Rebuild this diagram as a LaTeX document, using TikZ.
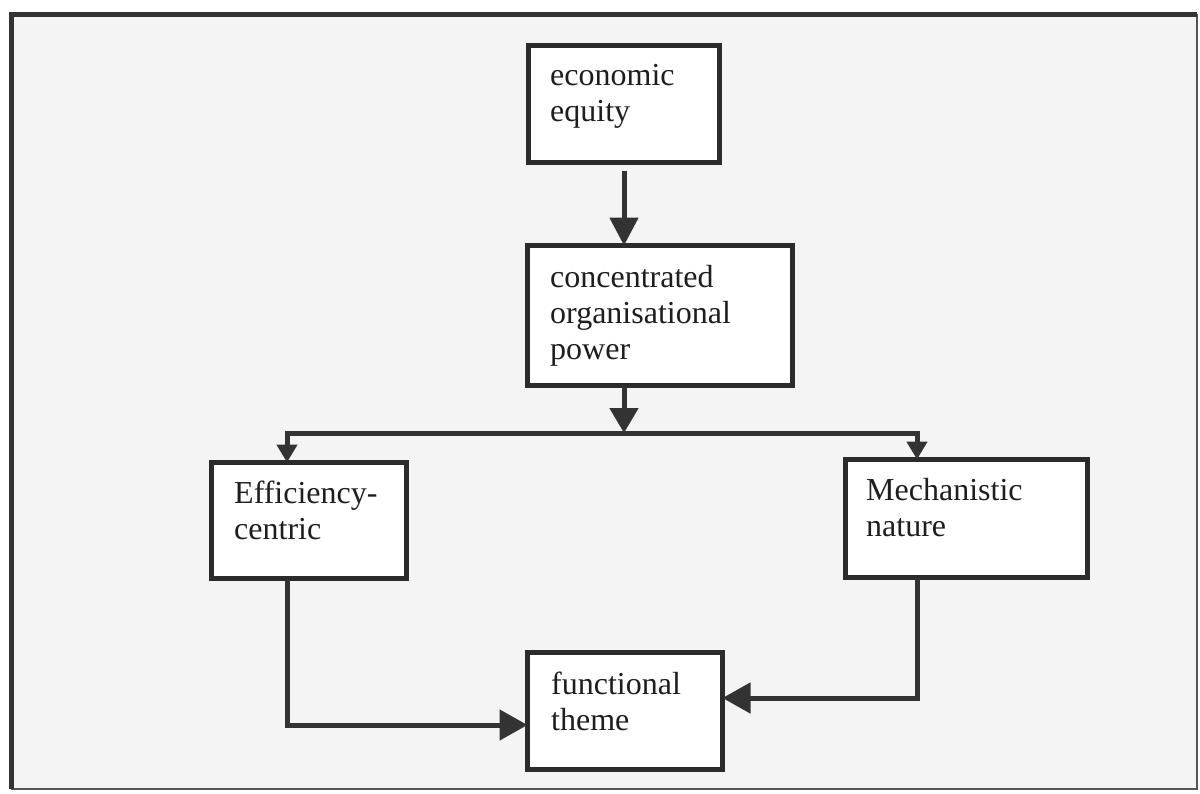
\documentclass[tikz,border=0pt]{standalone}
\usepackage{fontspec}
\setmainfont{Liberation Serif}
\usetikzlibrary{arrows.meta}

\definecolor{pagebg}{HTML}{F4F4F4}
\definecolor{framec}{HTML}{333333}
\definecolor{framethin}{HTML}{555555}
\definecolor{boxc}{HTML}{2B2B2B}
\definecolor{linec}{HTML}{333333}
\definecolor{textc}{HTML}{1E1E1E}

\tikzset{
  stepbox/.style={rectangle, draw=boxc, line width=5.5pt, fill=white,
    inner sep=0pt, outer sep=0pt},
  boxtext/.style={anchor=north west, inner sep=0pt, align=left,
    text=textc, font=\fontsize{32}{36}\selectfont},
  conn/.style={draw=linec, line width=5pt},
  bigtip/.style={-{Triangle[length=28pt,width=28pt]}},
  midtip/.style={-{Triangle[length=25pt,width=28pt]}},
  smalltips/.style={{Triangle[length=18pt,width=20pt]}-{Triangle[length=18pt,width=20pt]}},
  sidetip/.style={-{Triangle[length=28pt,width=30pt]}},
}

\begin{document}
\begin{tikzpicture}[x=1pt,y=-1pt]
  \useasboundingbox (0,0) rectangle (1200,793);

  % page frame
  \fill[pagebg] (11,14) rectangle (1197,789);
  \draw[framethin, line width=2pt] (1197,14) -- (1197,789) -- (11,789);
  \draw[framec, line width=5pt] (11,789) -- (11,14) -- (1197,14);

  % boxes
  \node[stepbox, minimum width=191pt, minimum height=117pt] (ee)   at (624,104)   {};
  \node[stepbox, minimum width=265pt, minimum height=140pt] (cop)  at (660,315.5) {};
  \node[stepbox, minimum width=195pt, minimum height=116pt] (eff)  at (309,520.5) {};
  \node[stepbox, minimum width=242pt, minimum height=118pt] (mech) at (966.5,518.5) {};
  \node[stepbox, minimum width=195pt, minimum height=117pt] (fun)  at (625,711)   {};

  % box labels
  \node[boxtext] (ee-t)   at ([shift={(21.5,14.3)}]ee.north west)   {\strut economic\\equity};
  \node[boxtext] (cop-t)  at ([shift={(22.5,16.3)}]cop.north west)  {\strut concentrated\\organisational\\power};
  \node[boxtext] (eff-t)  at ([shift={(22.5,15.3)}]eff.north west)  {\strut Efficiency-\\centric};
  \node[boxtext] (mech-t) at ([shift={(20.5,15.3)}]mech.north west) {\strut Mechanistic\\nature};
  \node[boxtext] (fun-t)  at ([shift={(23.5,16.3)}]fun.north west)  {\strut functional\\theme};

  % connectors
  \coordinate (split) at (624,433);
  \draw[conn, bigtip, shorten <=8pt] (ee.south) -- (ee.south |- cop.north);
  \draw[conn, midtip] (cop.south -| ee.south) -- (split);
  \draw[conn, smalltips] ([xshift=-22pt]eff.north) |- (split)
        -| ([xshift=-49.5pt]mech.north);
  \draw[conn, sidetip] ([xshift=-22pt]eff.south) |- ([yshift=-14pt]fun.west);
  \draw[conn, sidetip] ([xshift=-49.5pt]mech.south) |- ([yshift=13pt]fun.east);
\end{tikzpicture}
\end{document}
